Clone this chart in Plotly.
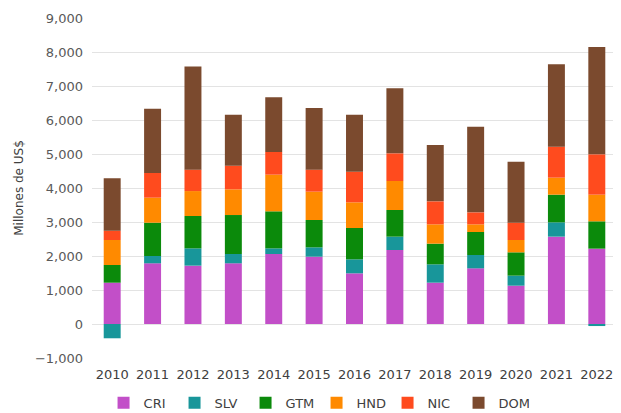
import plotly.graph_objects as go

years = ["2010", "2011", "2012", "2013", "2014", "2015", "2016", "2017", "2018", "2019", "2020", "2021", "2022"]
cri = [1215, 1785, 1716, 1785, 2059, 1980, 1490, 2176, 1216, 1637, 1127, 2569, 2216]
slv = [-420, 215, 509, 274, 166, 275, 412, 393, 539, 392, 295, 421, -60]
gtm = [520, 980, 951, 1146, 1089, 804, 922, 784, 608, 677, 686, 814, 804]
hnd = [735, 735, 734, 756, 1078, 833, 754, 853, 568, 225, 362, 500, 784]
nic = [275, 726, 630, 695, 667, 648, 902, 814, 677, 353, 510, 912, 1186]
dom = [1540, 1892, 3030, 1500, 1608, 1813, 1676, 1912, 1657, 2520, 1795, 2421, 3157]

series = [
    ("CRI", cri, "#C24FC8"),
    ("SLV", slv, "#18969A"),
    ("GTM", gtm, "#0B8A0B"),
    ("HND", hnd, "#FF8A00"),
    ("NIC", nic, "#FF4B1E"),
    ("DOM", dom, "#7B4A2E"),
]

fig = go.Figure()
for name, vals, col in series:
    fig.add_trace(go.Bar(x=years, y=vals, name=name, marker=dict(color=col, line=dict(width=0))))

font = "'DejaVu Sans', sans-serif"
fig.update_layout(
    width=621, height=413,
    margin=dict(l=84, r=12, t=10, b=63, autoexpand=False),
    barmode="relative",
    bargap=0.58,
    plot_bgcolor="white", paper_bgcolor="white",
    font=dict(family=font, size=13, color="#595959"),
    xaxis=dict(type="category", showgrid=False, showline=False, ticks="",
               tickfont=dict(size=13, color="#404040"), automargin=False,
               ticklabelstandoff=7),
    yaxis=dict(range=[-1000, 9000], tickvals=list(range(-1000, 9001, 1000)),
               tickformat=",", showgrid=True, gridcolor="#E3E3E3", gridwidth=1,
               zeroline=True, zerolinecolor="#E3E3E3", zerolinewidth=1,
               ticks="", automargin=False, ticklabelstandoff=8,
               tickfont=dict(size=13, color="#595959"),
               title=dict(text="Millones de US$", font=dict(size=12, color="#404040"), standoff=8)),
    legend=dict(orientation="h", x=0.022, xanchor="left", y=-0.132, yanchor="middle",
                font=dict(size=13, color="#404040"), itemwidth=30,
                entrywidth=26, entrywidthmode="pixels", traceorder="normal"),
)
fig.write_html("out.html")
